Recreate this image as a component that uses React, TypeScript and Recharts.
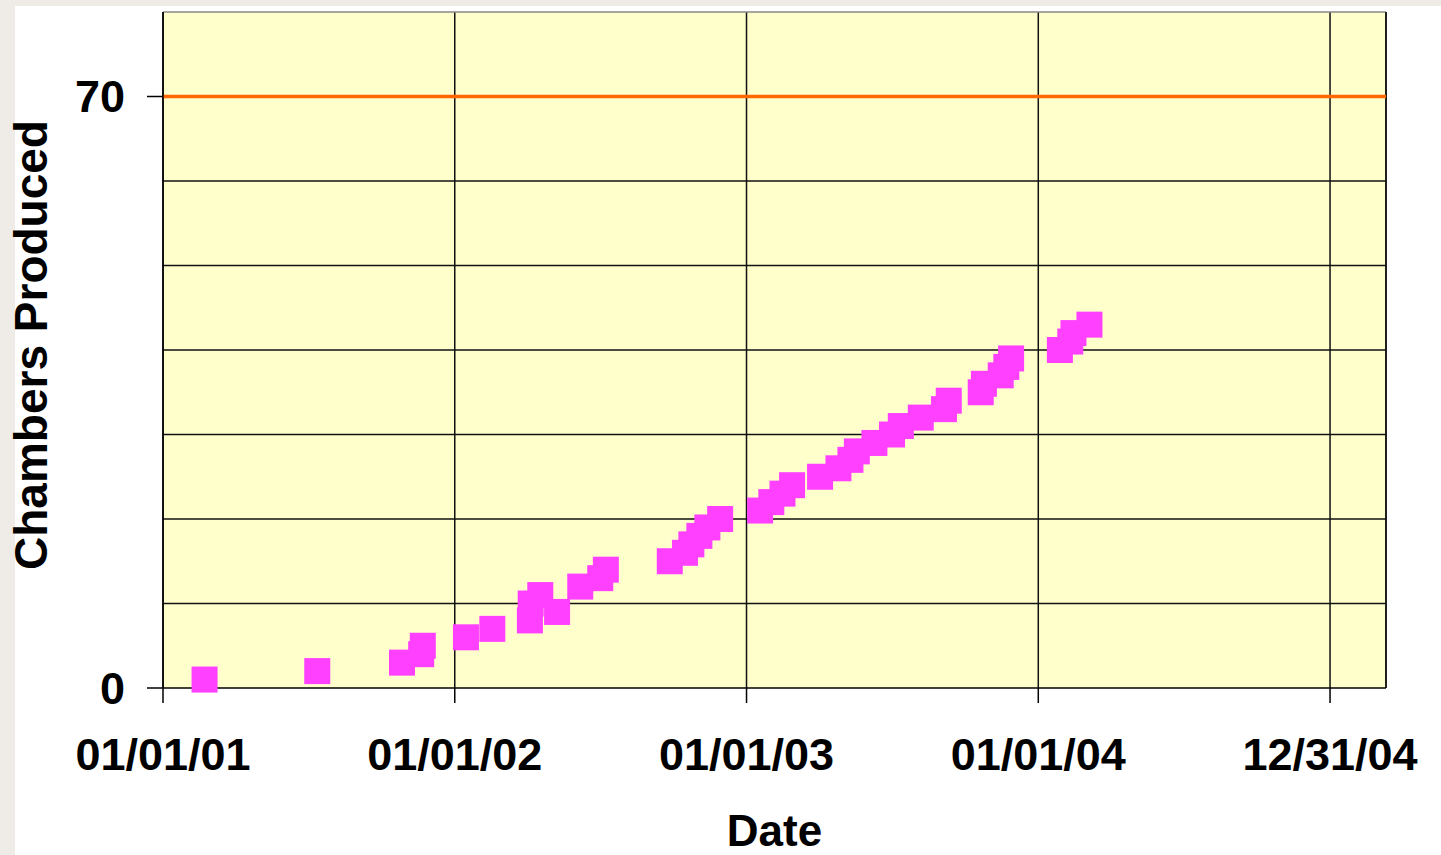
import React from 'react';
import { ScatterChart, Scatter, XAxis, YAxis, CartesianGrid, ReferenceLine, Label } from 'recharts';

// production dates and the cumulative count
const productionDates = [
  '2001-02-22', '2001-07-13', '2001-10-27', '2001-11-20', '2001-11-22',
  '2002-01-15', '2002-02-17', '2002-04-05', '2002-04-06', '2002-04-18',
  '2002-05-09', '2002-06-07', '2002-07-02', '2002-07-09', '2002-09-27',
  '2002-10-16', '2002-10-24', '2002-11-03', '2002-11-13', '2002-11-29',
  '2003-01-18', '2003-02-01', '2003-02-15', '2003-02-27', '2003-04-03',
  '2003-04-26', '2003-05-11', '2003-05-19', '2003-06-10', '2003-07-02',
  '2003-07-13', '2003-08-07', '2003-09-05', '2003-09-11', '2003-10-21',
  '2003-10-25', '2003-11-15', '2003-11-22', '2003-11-28', '2004-01-28',
  '2004-02-10', '2004-02-14', '2004-03-05',
];
const chambersProduced = [
  1, 2, 3, 4, 5,
  6, 7, 8, 10, 11,
  9, 12, 13, 14, 15,
  16, 17, 18, 19, 20,
  21, 22, 23, 24, 25,
  26, 27, 28, 29, 30,
  31, 32, 33, 34, 35,
  36, 37, 38, 39, 40,
  41, 42, 43,
];

const dateTicks = ['2001-01-01', '2002-01-01', '2003-01-01', '2004-01-01', '2004-12-31'];
const axisStart = '2001-01-01';
const axisEnd = '2005-03-11';
const yTicks = [0, 70];
const gridLevels = [10, 20, 30, 40, 50, 60];
const yMax = 80;
const target = 70;

const DAY = 86400000;
const base = Date.parse(axisStart + 'T00:00:00Z');
const toDay = (s: string) => Math.round((Date.parse(s + 'T00:00:00Z') - base) / DAY);
const pad = (n: number) => String(n).padStart(2, '0');
const fmtDate = (d: number) => {
  const dt = new Date(base + d * DAY);
  return `${pad(dt.getUTCMonth() + 1)}/${pad(dt.getUTCDate())}/${pad(dt.getUTCFullYear() % 100)}`;
};

const data = productionDates.map((d, i) => ({ day: toDay(d), count: chambersProduced[i] }));

const FONT = '"Liberation Sans", Arial, Helvetica, sans-serif';
const tickStyle = { fontSize: 45, fontWeight: 'bold', fill: '#000', fontFamily: FONT };

const Square = (props: any) => {
  const { cx, cy } = props;
  if (cx == null || cy == null) return null;
  return <rect x={cx - 13} y={cy - 13} width={26} height={26} fill="#FF40FF" />;
};

export default function App() {
  return (
    <div style={{ position: 'absolute', left: 0, top: 0, width: 1441, height: 855, background: '#EFEBE7' }}>
      <div style={{ position: 'absolute', left: 15, top: 6, width: 1426, height: 849, background: '#fff' }} />
      <div style={{ position: 'absolute', left: 0, top: 6, width: 1441, height: 849 }}>
        <ScatterChart width={1441} height={849} margin={{ top: 6, right: 55, bottom: 0, left: 15 }}>
          <CartesianGrid horizontal={false} stroke="#111" strokeWidth={1.5} fill="#FFFFCC" fillOpacity={1} />
          <XAxis
            type="number"
            dataKey="day"
            domain={[0, toDay(axisEnd)]}
            ticks={dateTicks.map(toDay)}
            tickFormatter={fmtDate}
            height={167}
            tickSize={15}
            tickMargin={35}
            tick={tickStyle}
            stroke="#000"
            strokeWidth={1.5}
            interval={0}
          >
            <Label
              content={({ viewBox }: any) => (
                <text
                  x={viewBox.x + viewBox.width / 2}
                  y={viewBox.y + 158}
                  textAnchor="middle"
                  style={{ fontSize: 44, fontWeight: 'bold', fontFamily: FONT }}
                  fill="#000"
                >
                  Date
                </text>
              )}
            />
          </XAxis>
          <YAxis
            type="number"
            dataKey="count"
            domain={[0, yMax]}
            ticks={yTicks}
            width={148}
            tickSize={16}
            tickMargin={22}
            tick={tickStyle}
            stroke="#000"
            strokeWidth={1.5}
            interval={0}
          >
            <Label
              content={({ viewBox }: any) => {
                const cx = 31;
                const cy = viewBox.y + viewBox.height / 2 - 5;
                return (
                  <text
                    x={cx}
                    y={cy}
                    transform={`rotate(-90, ${cx}, ${cy})`}
                    textAnchor="middle"
                    dominantBaseline="central"
                    style={{ fontSize: 46, fontWeight: 'bold', fontFamily: FONT }}
                    fill="#000"
                  >
                    Chambers Produced
                  </text>
                );
              }}
            />
          </YAxis>
          {gridLevels.map((v) => (
            <ReferenceLine key={v} y={v} stroke="#111" strokeWidth={1.5} />
          ))}
          <ReferenceLine y={yMax} stroke="#888" strokeWidth={1.5} />
          <ReferenceLine x={toDay(axisEnd)} stroke="#111" strokeWidth={1.5} />
          <ReferenceLine y={target} stroke="#FF6600" strokeWidth={3.5} />
          <Scatter data={data} shape={Square} isAnimationActive={false} />
        </ScatterChart>
      </div>
    </div>
  );
}
